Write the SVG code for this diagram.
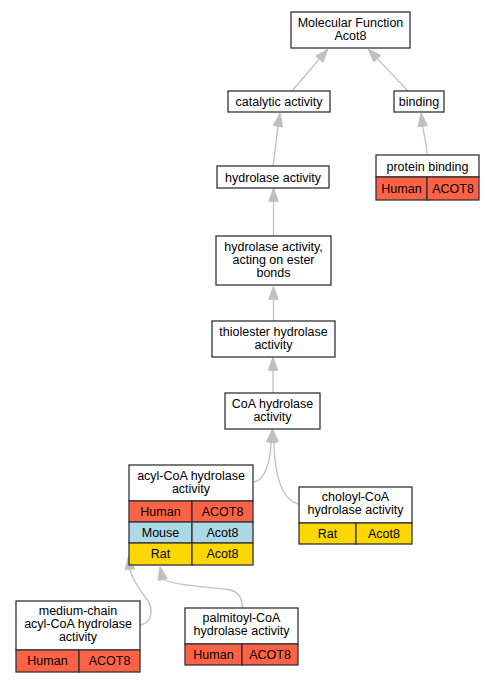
<svg xmlns="http://www.w3.org/2000/svg" width="493" height="683" viewBox="0 0 493 683">
<style>
  text { font-family: "Liberation Sans", Arial, sans-serif; font-size: 12.5px; fill: #000; text-anchor: middle; }
  .box { fill: #fff; stroke: #333; stroke-width: 1.3; }
  .human { fill: #FF6347; stroke: #333; stroke-width: 1.3; }
  .mouse { fill: #ADD8E6; stroke: #333; stroke-width: 1.3; }
  .rat { fill: #FFD700; stroke: #333; stroke-width: 1.3; }
  .edge { fill: none; stroke: #C0C0C0; stroke-width: 1.3; }
  .head { fill: #C0C0C0; stroke: #C0C0C0; stroke-width: 1; }
</style>
<rect width="493" height="683" fill="#fff"/>

<g id="connectors">
  <path class="edge" d="M292,91 L319.3,59.1"/>
  <polygon class="head" points="328,49 322.9,62.2 315.8,56"/>
  <path class="edge" d="M408,91 L377.2,58.6"/>
  <polygon class="head" points="368,49 380.6,55.4 373.8,61.9"/>
  <path class="edge" d="M427,155 C427,145 424,136 422.7,126.2"/>
  <polygon class="head" points="421,113 427.4,125.6 418.1,126.8"/>
  <path class="edge" d="M273,166 L278.1,126.2"/>
  <polygon class="head" points="280,113 282.7,126.9 273.4,125.5"/>
  <path class="edge" d="M273.5,236 L273.5,201.3"/>
  <polygon class="head" points="273.5,188 278.2,201.3 268.8,201.3"/>
  <path class="edge" d="M273.5,321 L273.5,299.3"/>
  <polygon class="head" points="273.5,286 278.2,299.3 268.8,299.3"/>
  <path class="edge" d="M273,393 L273,370.3"/>
  <polygon class="head" points="273,357 277.7,370.3 268.3,370.3"/>
  <path class="edge" d="M254,482 C264,480 270,465 271.2,442.2"/>
  <polygon class="head" points="272.5,429 275.9,442.7 266.5,441.8"/>
  <path class="edge" d="M298,504 C283,500 275,480 273.8,442.2"/>
  <polygon class="head" points="272.5,429 278.5,441.8 269.1,442.7"/>
  <path class="edge" d="M140,625 C153,623 154,608 146,598 C140,590 132,580 130,569.2"/>
  <polygon class="head" points="128.5,556 134.7,568.7 125.3,569.7"/>
  <path class="edge" d="M242.5,608 C242.5,597 238,591 228,589.5 C200,586 180,586 162.7,579.5"/>
  <polygon class="head" points="160,566.5 167.3,578.6 158.1,580.4"/>
</g>

<g id="node-molecular-function">
  <rect class="box" x="291" y="12" width="119" height="36"/>
  <text x="350.5" y="26.5">Molecular Function</text>
  <text x="350.5" y="39.5">Acot8</text>
</g>

<g id="node-catalytic-activity">
  <rect class="box" x="228" y="91" width="102" height="21"/>
  <text x="279" y="105.5">catalytic activity</text>
</g>

<g id="node-binding">
  <rect class="box" x="394" y="91" width="50" height="21"/>
  <text x="419" y="105.5">binding</text>
</g>

<g id="node-protein-binding">
  <rect class="box" x="376" y="155" width="103" height="22"/>
  <text x="427.5" y="170.5">protein binding</text>
  <rect class="human" x="376" y="177" width="51" height="23"/>
  <rect class="human" x="427" y="177" width="52" height="23"/>
  <text x="401.5" y="193">Human</text>
  <text x="453" y="193">ACOT8</text>
</g>

<g id="node-hydrolase-activity">
  <rect class="box" x="217" y="166" width="112" height="22"/>
  <text x="273" y="181.5">hydrolase activity</text>
</g>

<g id="node-ester-bonds">
  <rect class="box" x="216" y="236" width="115" height="49"/>
  <text x="273.5" y="250.5">hydrolase activity,</text>
  <text x="273.5" y="263.5">acting on ester</text>
  <text x="273.5" y="276.5">bonds</text>
</g>

<g id="node-thiolester">
  <rect class="box" x="212" y="321" width="123" height="36"/>
  <text x="273.5" y="335.5">thiolester hydrolase</text>
  <text x="273.5" y="348.5">activity</text>
</g>

<g id="node-coa-hydrolase">
  <rect class="box" x="225" y="393" width="95" height="36"/>
  <text x="272.5" y="407.5">CoA hydrolase</text>
  <text x="272.5" y="420.5">activity</text>
</g>

<g id="node-acyl-coa">
  <rect class="box" x="129" y="465" width="124" height="36"/>
  <text x="191" y="479.5">acyl-CoA hydrolase</text>
  <text x="191" y="492.5">activity</text>
  <rect class="human" x="129" y="501" width="63" height="21"/>
  <rect class="human" x="192" y="501" width="61" height="21"/>
  <text x="160.5" y="515.5">Human</text>
  <text x="222.5" y="515.5">ACOT8</text>
  <rect class="mouse" x="129" y="522" width="63" height="21"/>
  <rect class="mouse" x="192" y="522" width="61" height="21"/>
  <text x="160.5" y="536.5">Mouse</text>
  <text x="222.5" y="536.5">Acot8</text>
  <rect class="rat" x="129" y="543" width="63" height="22"/>
  <rect class="rat" x="192" y="543" width="61" height="22"/>
  <text x="160.5" y="557.5">Rat</text>
  <text x="222.5" y="557.5">Acot8</text>
</g>

<g id="node-choloyl-coa">
  <rect class="box" x="299" y="487" width="113" height="36"/>
  <text x="355.5" y="501">choloyl-CoA</text>
  <text x="355.5" y="514">hydrolase activity</text>
  <rect class="rat" x="299" y="523" width="57" height="21"/>
  <rect class="rat" x="356" y="523" width="56" height="21"/>
  <text x="327.5" y="537.5">Rat</text>
  <text x="384" y="537.5">Acot8</text>
</g>

<g id="node-medium-chain">
  <rect class="box" x="16" y="601" width="124" height="49"/>
  <text x="78" y="615">medium-chain</text>
  <text x="78" y="628">acyl-CoA hydrolase</text>
  <text x="78" y="641">activity</text>
  <rect class="human" x="16" y="650" width="63" height="22"/>
  <rect class="human" x="79" y="650" width="61" height="22"/>
  <text x="47.5" y="665">Human</text>
  <text x="109.5" y="665">ACOT8</text>
</g>

<g id="node-palmitoyl-coa">
  <rect class="box" x="185" y="608" width="113" height="36"/>
  <text x="241.5" y="622">palmitoyl-CoA</text>
  <text x="241.5" y="635">hydrolase activity</text>
  <rect class="human" x="185" y="644" width="57" height="21"/>
  <rect class="human" x="242" y="644" width="56" height="21"/>
  <text x="213.5" y="658.5">Human</text>
  <text x="270" y="658.5">ACOT8</text>
</g>
</svg>
